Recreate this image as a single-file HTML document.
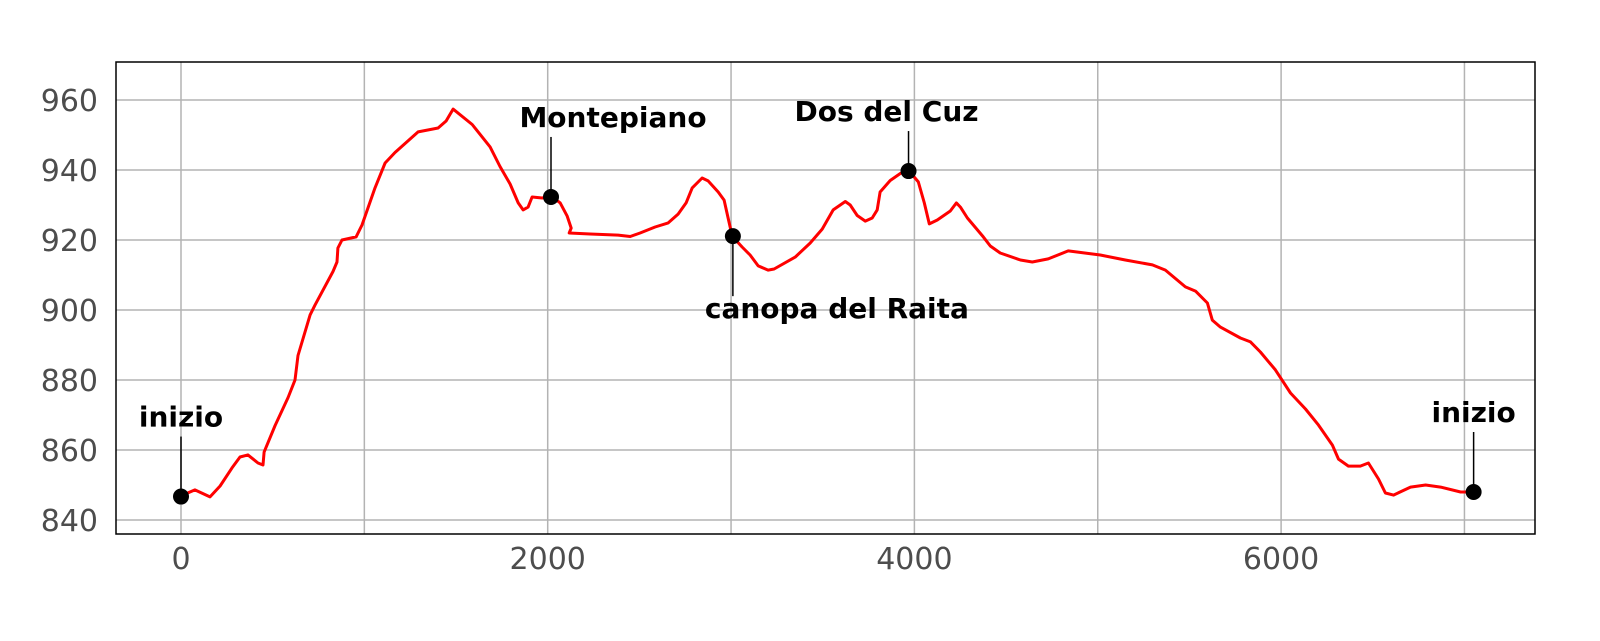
<!DOCTYPE html>
<html><head><meta charset="utf-8"><style>
html,body{margin:0;padding:0;background:#fff;}
svg text{font-family:"DejaVu Sans","Liberation Sans",sans-serif;}
</style></head><body>
<svg id="chart" width="1600" height="636" xmlns="http://www.w3.org/2000/svg">
<g id="grid"></g>
<g id="ticks"></g>
<path id="line" fill="none" stroke="#ff0000" stroke-width="3" stroke-linejoin="round"/>
<g id="ann"></g>
<rect x="116" y="62" width="1419" height="472" fill="none" stroke="#000" stroke-width="1.5"/>
</svg>
<script>
const distances=[0,76,158,213,278,322,365,420,447,453,513,584,622,638,704,731,829,851,856,878,955,987,1058,1113,1167,1293,1402,1446,1484,1588,1686,1740,1795,1839,1866,1893,1915,1970,2019,2068,2106,2128,2117,2231,2384,2450,2504,2586,2657,2711,2755,2788,2842,2875,2930,2962,2984,3006,3060,3104,3148,3202,3235,3350,3431,3497,3557,3623,3650,3688,3732,3770,3797,3813,3868,3923,3966,4021,4054,4081,4125,4196,4229,4251,4289,4376,4414,4468,4578,4643,4730,4839,5014,5150,5298,5369,5478,5533,5598,5625,5669,5778,5833,5887,5969,6051,6133,6204,6280,6313,6367,6432,6476,6531,6569,6613,6706,6788,6870,6979,7050];
const elevations=[846.9,848.6,846.6,849.7,854.9,858,858.6,856.3,855.7,859.4,867,875,880,887,898.6,901.4,911,913.7,917.7,920,920.9,924.3,934.9,942,945,950.9,952,954,957.4,953,946.6,941,936,930.6,928.6,929.4,932.3,932,932.6,930.6,926.9,923.4,922,921.7,921.4,921,922,923.7,924.9,927.4,930.6,934.9,937.7,936.9,933.7,931.4,926.3,921.1,918,915.7,912.6,911.4,911.7,915.1,919.1,923.1,928.6,931,930,927,925.4,926.3,928.6,933.7,937,939,940,936.6,930.6,924.6,925.7,928.3,930.6,929.4,926.3,920.9,918.3,916.3,914.3,913.7,914.6,916.9,915.7,914.3,912.9,911.4,906.6,905.4,902,897.1,895.1,892,890.9,888,882.9,876.3,871.7,867.1,861.4,857.4,855.4,855.4,856.3,851.7,847.7,847.1,849.4,850,849.4,848,848];
const xTicks=[0,2000,4000,6000];
const xGrid=[0,1000,2000,3000,4000,5000,6000,7000];
const yTicks=[840,860,880,900,920,940,960];
const poiNames=["inizio","Montepiano","canopa del Raita","Dos del Cuz","inizio"];
const poiDist=[0,2018,3010,3968,7050];
const poiElev=[846.7,932.3,921.1,939.7,848];
const poiDy=[-60,-60,60,-40,-60];
const poiLabelDx=[0,62,104,-22,0];

const X=v=>181+v*0.18335, Y=v=>100+(960-v)*3.5;
const NS="http://www.w3.org/2000/svg";
function mk(t,a,p){const e=document.createElementNS(NS,t);for(const k in a)e.setAttribute(k,a[k]);p.appendChild(e);return e;}
const grid=document.getElementById('grid'),ticks=document.getElementById('ticks'),ann=document.getElementById('ann');
xGrid.forEach(v=>{const e=mk('line',{x1:X(v),x2:X(v),y1:62,y2:534,stroke:'#b3b3b3','stroke-width':1.5},grid);

});
yTicks.forEach(v=>{const e=mk('line',{x1:116,x2:1535,y1:Y(v),y2:Y(v),stroke:'#b3b3b3','stroke-width':1.5},grid);


const t=mk('text',{x:98,y:Y(v)+11,'text-anchor':'end','font-size':30,fill:'#4d4d4d'},ticks);t.textContent=v;

});
xTicks.forEach(v=>{const t=mk('text',{x:X(v),y:569,'text-anchor':'middle','font-size':30,fill:'#4d4d4d'},ticks);t.textContent=v;

});
document.getElementById('line').setAttribute('d',distances.map((d,i)=>(i?'L':'M')+X(d).toFixed(1)+','+Y(elevations[i]).toFixed(1)).join(''));
poiNames.forEach((n,i)=>{const x=X(poiDist[i]),y=Y(poiElev[i]),dy=poiDy[i];
const l=mk('line',{x1:x,x2:x,y1:y,y2:y+dy,stroke:'#000','stroke-width':1.5},ann);


const c=mk('circle',{cx:x,cy:y,r:8,fill:'#000'},ann);


const ty=dy<0?y+dy-10:y+dy+22;
const t=mk('text',{x:x+poiLabelDx[i],y:ty,'text-anchor':'middle','font-size':28,'font-weight':'bold',fill:'#000'},ann);t.textContent=n;

});
</script>
</body></html>
